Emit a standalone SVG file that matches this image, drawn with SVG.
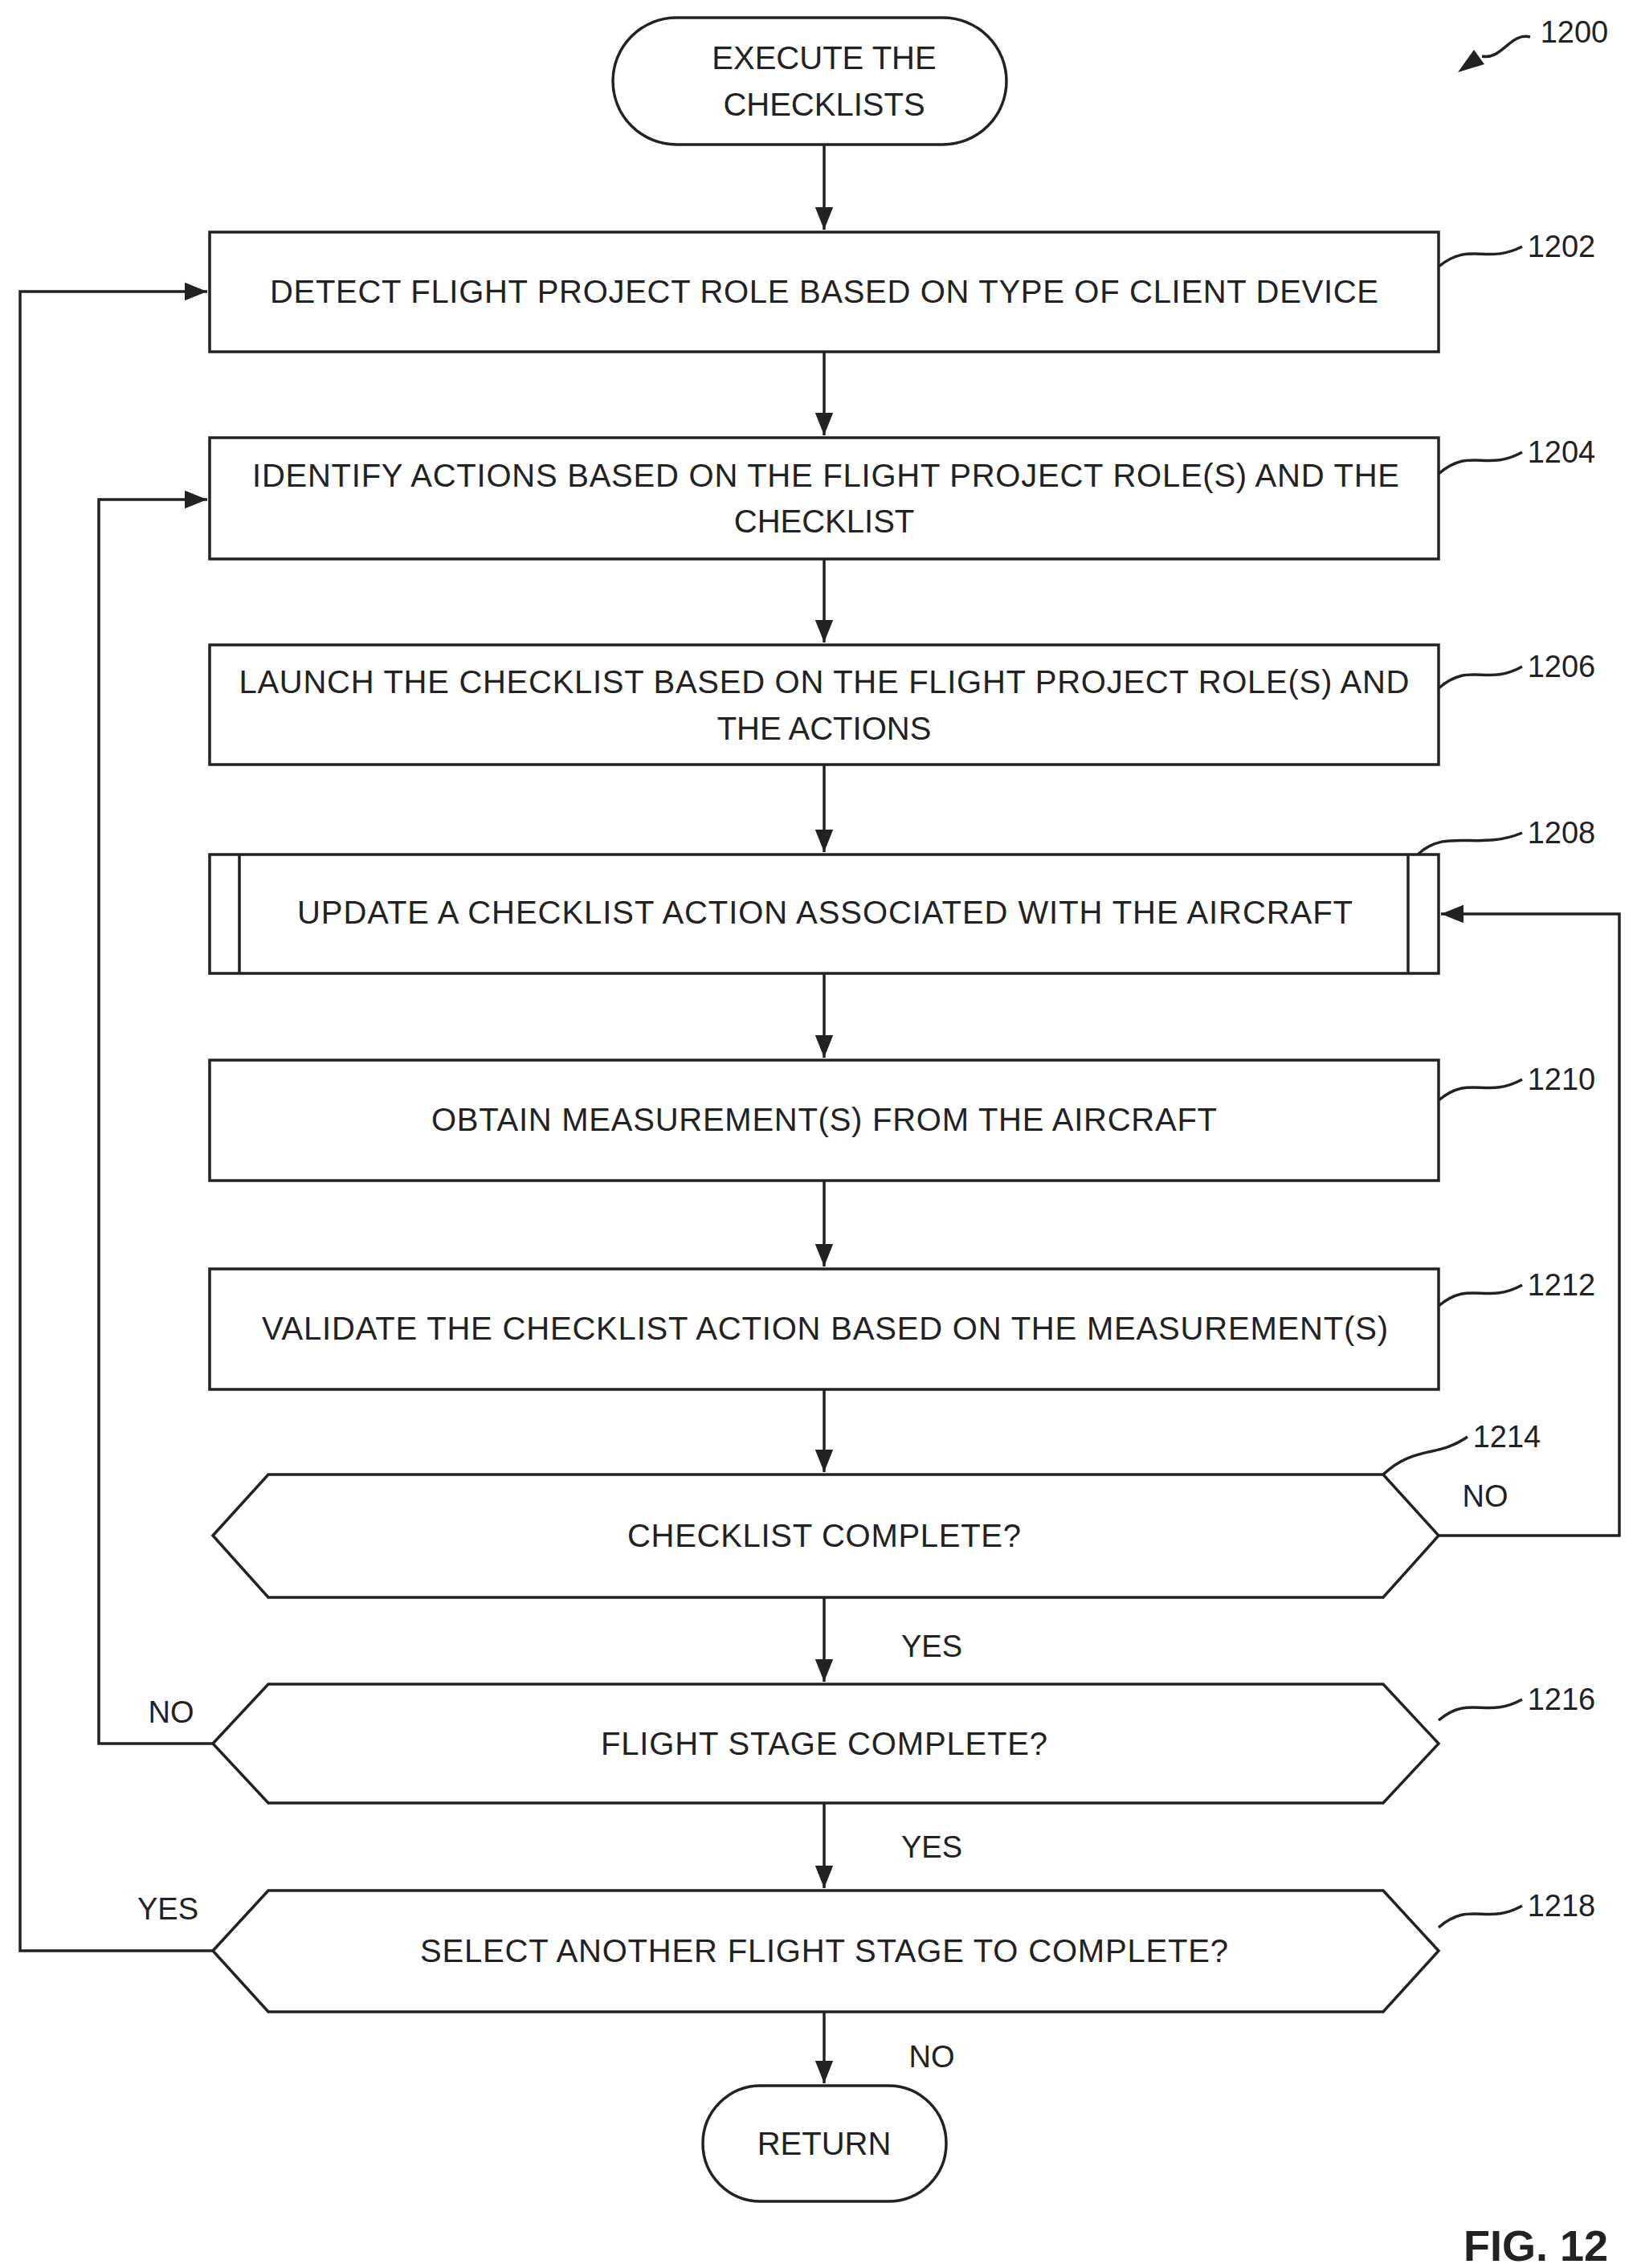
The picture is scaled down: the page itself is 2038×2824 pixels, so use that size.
<svg xmlns="http://www.w3.org/2000/svg" width="2038" height="2824" viewBox="0 0 2038 2824">
<style>
.s{fill:#fff;stroke:#222;stroke-width:3.5}
.l{fill:none;stroke:#222;stroke-width:3.5}
.t{font-family:"Liberation Sans",Arial,sans-serif;font-size:40px;fill:#222;text-anchor:middle;dominant-baseline:central;lengthAdjust:spacingAndGlyphs}
.r{font-family:"Liberation Sans",Arial,sans-serif;font-size:38px;fill:#222;text-anchor:middle;dominant-baseline:central}
</style>
<defs><marker id="a" viewBox="0 0 10 10" refX="10" refY="5" markerWidth="7" markerHeight="7" markerUnits="userSpaceOnUse" orient="auto"><path d="M0,0L10,5L0,10z" fill="#222"/></marker>
<marker id="b" viewBox="0 0 10 10" refX="10" refY="5" markerWidth="28" markerHeight="28" markerUnits="userSpaceOnUse" orient="auto"><path d="M0,1L10,5L0,9z" fill="#222"/></marker></defs>
<rect width="2038" height="2824" fill="#fff"/>
<g id="connectors" class="l">
<path d="M1026 180V286" marker-end="url(#b)"/>
<path d="M1026 438V542" marker-end="url(#b)"/>
<path d="M1026 696V800" marker-end="url(#b)"/>
<path d="M1026 952V1061" marker-end="url(#b)"/>
<path d="M1026 1212V1317" marker-end="url(#b)"/>
<path d="M1026 1470V1577" marker-end="url(#b)"/>
<path d="M1026 1730V1833" marker-end="url(#b)"/>
<path d="M1026 1989V2094" marker-end="url(#b)"/>
<path d="M1026 2245V2351" marker-end="url(#b)"/>
<path d="M1026 2505V2594" marker-end="url(#b)"/>
<path d="M1791 1912H2016V1138H1794" marker-end="url(#b)"/>
<path d="M265 2171H123V622H258" marker-end="url(#b)"/>
<path d="M265 2429H25V363H258" marker-end="url(#b)"/>
</g>
<g id="n1200"><rect class="s" x="763" y="22" width="490" height="158" rx="79"/><text class="t" x="1026" y="72">EXECUTE THE</text><text class="t" x="1026" y="130">CHECKLISTS</text></g>
<g id="n1202"><rect class="s" x="261" y="289" width="1530" height="149"/><text class="t" x="1026" y="363" textLength="1380">DETECT FLIGHT PROJECT ROLE BASED ON TYPE OF CLIENT DEVICE</text></g>
<g id="n1204"><rect class="s" x="261" y="545" width="1530" height="151"/><text class="t" x="1028" y="592" textLength="1428">IDENTIFY ACTIONS BASED ON THE FLIGHT PROJECT ROLE(S) AND THE</text><text class="t" x="1026" y="649">CHECKLIST</text></g>
<g id="n1206"><rect class="s" x="261" y="803" width="1530" height="149"/><text class="t" x="1026" y="849" textLength="1457">LAUNCH THE CHECKLIST BASED ON THE FLIGHT PROJECT ROLE(S) AND</text><text class="t" x="1026" y="907">THE ACTIONS</text></g>
<g id="n1208"><rect class="s" x="261" y="1064" width="1530" height="148"/><path class="l" d="M298 1064V1212M1753 1064V1212"/><text class="t" x="1027" y="1136" textLength="1314">UPDATE A CHECKLIST ACTION ASSOCIATED WITH THE AIRCRAFT</text></g>
<g id="n1210"><rect class="s" x="261" y="1320" width="1530" height="150"/><text class="t" x="1026" y="1394" textLength="978">OBTAIN MEASUREMENT(S) FROM THE AIRCRAFT</text></g>
<g id="n1212"><rect class="s" x="261" y="1580" width="1530" height="150"/><text class="t" x="1027" y="1654" textLength="1402">VALIDATE THE CHECKLIST ACTION BASED ON THE MEASUREMENT(S)</text></g>
<g id="n1214"><path class="s" d="M265 1912L334 1836H1722L1791 1912L1722 1989H334Z"/><text class="t" x="1026" y="1912" textLength="490">CHECKLIST COMPLETE?</text></g>
<g id="n1216"><path class="s" d="M265 2171L334 2097H1722L1791 2171L1722 2245H334Z"/><text class="t" x="1026" y="2171" textLength="556">FLIGHT STAGE COMPLETE?</text></g>
<g id="n1218"><path class="s" d="M265 2429L334 2354H1722L1791 2429L1722 2505H334Z"/><text class="t" x="1026" y="2429" textLength="1006">SELECT ANOTHER FLIGHT STAGE TO COMPLETE?</text></g>
<g id="nret"><rect class="s" x="875" y="2597" width="303" height="144" rx="72"/><text class="t" x="1026" y="2669">RETURN</text></g>
<g id="labels">
<text class="r" x="1849" y="1863">NO</text><text class="r" x="1160" y="2050">YES</text><text class="r" x="213" y="2132">NO</text><text class="r" x="1160" y="2300">YES</text><text class="r" x="209" y="2377">YES</text><text class="r" x="1160" y="2561">NO</text>
</g>
<g id="refs">
<text class="r" x="1960" y="40">1200</text><path class="l" d="M1905 46C1880 40 1870 75 1845 70" /><path d="M1815 90L1835 62L1848 80Z" fill="#222"/>
<text class="r" x="1944" y="307">1202</text><path class="l" d="M1791 332C1830 300 1850 330 1895 307"/>
<text class="r" x="1944" y="563">1204</text><path class="l" d="M1791 590C1830 556 1850 588 1895 563"/>
<text class="r" x="1944" y="830">1206</text><path class="l" d="M1791 857C1830 823 1850 855 1895 830"/>
<text class="r" x="1944" y="1037">1208</text><path class="l" d="M1765 1064C1800 1030 1840 1060 1895 1037"/>
<text class="r" x="1944" y="1344">1210</text><path class="l" d="M1791 1370C1830 1337 1850 1369 1895 1344"/>
<text class="r" x="1944" y="1600">1212</text><path class="l" d="M1791 1626C1830 1593 1850 1625 1895 1600"/>
<text class="r" x="1876" y="1789">1214</text><path class="l" d="M1722 1836C1760 1800 1790 1815 1827 1789"/>
<text class="r" x="1944" y="2116">1216</text><path class="l" d="M1791 2142C1830 2109 1850 2141 1895 2116"/>
<text class="r" x="1944" y="2373">1218</text><path class="l" d="M1791 2400C1830 2366 1850 2398 1895 2373"/>
<text x="1912" y="2796" style="font-family:'Liberation Sans',Arial,sans-serif;font-size:54px;font-weight:bold;fill:#222" text-anchor="middle" dominant-baseline="central">FIG. 12</text>
</g>
</svg>
